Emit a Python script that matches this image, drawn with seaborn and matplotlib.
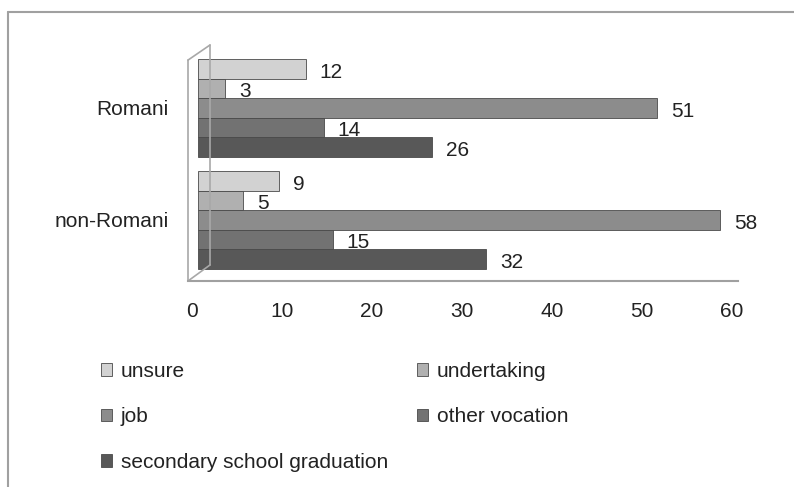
import matplotlib
matplotlib.use("Agg")
import matplotlib.pyplot as plt
import matplotlib.lines as mlines
import matplotlib.transforms as mtrans
import seaborn as sns
import pandas as pd

groups = ["Romani", "non-Romani"]
answers = ["unsure", "undertaking", "job", "other vocation",
           "secondary school graduation"]
romani = [12, 3, 51, 14, 26]
non_romani = [9, 5, 58, 15, 32]
xticks = [0, 10, 20, 30, 40, 50, 60]

colors = ["#d2d2d2", "#b0b0b0", "#8c8c8c", "#727272", "#585858"]

rows = []
for g, vals in zip(groups, [romani, non_romani]):
    for a, v in zip(answers, vals):
        rows.append({"group": g, "answer": a, "value": v})
df = pd.DataFrame(rows)

sns.set_theme(style="white")
plt.rcParams["font.family"] = ["Liberation Sans", "DejaVu Sans"]

W, H = 794, 487
fig = plt.figure(figsize=(W / 100, H / 100), dpi=100)
# axes box in pixels: left 188, right 738, top 45, bottom 281
ax = fig.add_axes([188 / W, 1 - 281 / H, 550 / W, 236 / H])

sns.barplot(data=df, y="group", x="value", hue="answer", hue_order=answers,
            palette=colors, orient="h", width=0.87, ax=ax,
            edgecolor="#4a4a4a", linewidth=0.6, legend=True)

# value labels, nudged a little below the bar centre like the original
for cont in ax.containers:
    for t in ax.bar_label(cont, padding=10, fontsize=15, color="#222222"):
        x0, y0 = t.xyann
        t.xyann = (x0, y0 - 2.5)

ax.set_xlim(-1.1, 60)
ax.set_ylim(1.545, -0.5625)
ax.set_xticks(xticks)
ax.set_xticklabels([str(t) for t in xticks], fontsize=15, color="#222222")
ax.tick_params(axis="y", labelsize=15, labelcolor="#222222", pad=14, length=0)
ax.tick_params(axis="x", pad=15, length=0)
shift = mtrans.ScaledTranslation(-6 / 100, 0, fig.dpi_scale_trans)
for lab in ax.get_xticklabels():
    lab.set_transform(lab.get_transform() + shift)
ax.set_xlabel("")
ax.set_ylabel("")

for s in ["top", "right", "left"]:
    ax.spines[s].set_visible(False)
ax.spines["bottom"].set_color("#a0a0a0")
ax.spines["bottom"].set_linewidth(1.5)

# back wall of the 3D frame
wall = dict(color="#a8a8a8", lw=1.2, transform=ax.transAxes, clip_on=False)
ax.add_line(mlines.Line2D([0, 0], [0, 0.936], **wall))
ax.add_line(mlines.Line2D([0.04, 0.04], [0.068, 1.0], **wall))
ax.add_line(mlines.Line2D([0, 0.04], [0.936, 1.0], **wall))
ax.add_line(mlines.Line2D([0, 0.04], [0, 0.068], **wall))

# legend in row order
handles, labels = ax.get_legend_handles_labels()
ax.legend_.remove()
order = [0, 2, 4, 1, 3]
fig.legend([handles[i] for i in order], [labels[i] for i in order],
           ncol=2, loc="upper left", bbox_to_anchor=(82 / W, 1 - 343 / H),
           frameon=False, fontsize=15, handlelength=0.55, handleheight=0.55,
           handletextpad=0.4, labelspacing=1.28, columnspacing=1.4,
           labelcolor="#222222")

# outer frame lines
fig.add_artist(mlines.Line2D([8 / W, 8 / W], [0, 1 - 12 / H],
                             color="#a0a0a0", lw=1.5))
fig.add_artist(mlines.Line2D([8 / W, 1], [1 - 12 / H, 1 - 12 / H],
                             color="#a0a0a0", lw=1.5))

fig.savefig("out.png", dpi=100)
